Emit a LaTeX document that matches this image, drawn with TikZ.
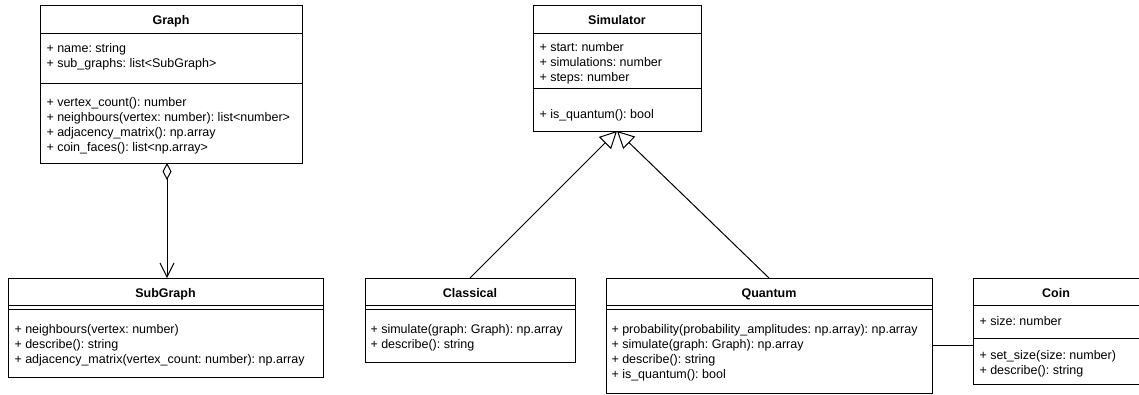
\documentclass[tikz,border=0pt]{standalone}
\usepackage{fontspec}
\setmainfont{Liberation Sans}
\usetikzlibrary{arrows.meta}
\frenchspacing

\begin{document}
\begin{tikzpicture}[x=1pt,y=-1pt,line width=1pt,
 font=\fontsize{12.5}{15}\selectfont,
 cls/.style={draw,rectangle,anchor=north west,inner sep=0pt,outer sep=0pt},
 ttl/.style={anchor=base,inner sep=0pt,font=\fontsize{12.5}{15}\selectfont\bfseries},
 mem/.style={anchor=base west,inner sep=0pt},
 inh/.style={arrows={-Triangle[open,length=17pt,width=17pt]}},
 agg/.style={arrows={Diamond[open,length=17pt,width=9pt]-Straight Barb[length=14pt,width=14pt]}}]
\useasboundingbox (0,0) rectangle (1139,394);
% Graph
\node[cls,minimum width=262pt,minimum height=158pt] (graph) at (40,5) {};
\node[ttl] (graphT) at (graph.north |- 0,24) {Graph};
\draw (graph.west |- 0,33) -- (graph.east |- 0,33);
\draw (graph.west |- 0,83) -- (graph.east |- 0,83);
\node[mem] (graphA1) at (46,52) {+ name: string};
\node[mem] (graphA2) at (46,67) {+ sub\_graphs: list<SubGraph>};
\node[mem] (graphM1) at (46,106) {+ vertex\_count(): number};
\node[mem] (graphM2) at (46,121) {+ neighbours(vertex: number): list<number>};
\node[mem] (graphM3) at (46,136) {+ adjacency\_matrix(): np.array};
\node[mem] (graphM4) at (46,151) {+ coin\_faces(): list<np.array>};
% Simulator
\node[cls,minimum width=168pt,minimum height=126pt] (simulator) at (533,5) {};
\node[ttl] (simulatorT) at (simulator.north |- 0,24) {Simulator};
\draw (simulator.west |- 0,33) -- (simulator.east |- 0,33);
\draw (simulator.west |- 0,88) -- (simulator.east |- 0,88);
\node[mem] (simulatorA1) at (539,51) {+ start: number};
\node[mem] (simulatorA2) at (539,66) {+ simulations: number};
\node[mem] (simulatorA3) at (539,81) {+ steps: number};
\node[mem] (simulatorM1) at (539,118) {+ is\_quantum(): bool};
% SubGraph
\node[cls,minimum width=315pt,minimum height=99pt] (subgraph) at (8,278) {};
\node[ttl] (subgraphT) at (subgraph.north |- 0,297) {SubGraph};
\draw (subgraph.west |- 0,305) -- (subgraph.east |- 0,305);
\draw (subgraph.west |- 0,309) -- (subgraph.east |- 0,309);
\node[mem] (subgraphM1) at (14,333) {+ neighbours(vertex: number)};
\node[mem] (subgraphM2) at (14,348) {+ describe(): string};
\node[mem] (subgraphM3) at (14,363) {+ adjacency\_matrix(vertex\_count: number): np.array};
% Classical
\node[cls,minimum width=210pt,minimum height=84pt] (classical) at (365,278) {};
\node[ttl] (classicalT) at (classical.north |- 0,297) {Classical};
\draw (classical.west |- 0,305) -- (classical.east |- 0,305);
\draw (classical.west |- 0,309) -- (classical.east |- 0,309);
\node[mem] (classicalM1) at (370,333) {+ simulate(graph: Graph): np.array};
\node[mem] (classicalM2) at (370,348) {+ describe(): string};
% Quantum
\node[cls,minimum width=326pt,minimum height=115pt] (quantum) at (606,278) {};
\node[ttl] (quantumT) at (quantum.north |- 0,297) {Quantum};
\draw (quantum.west |- 0,305) -- (quantum.east |- 0,305);
\draw (quantum.west |- 0,309) -- (quantum.east |- 0,309);
\node[mem] (quantumM1) at (611,333) {+ probability(probability\_amplitudes: np.array): np.array};
\node[mem] (quantumM2) at (611,348) {+ simulate(graph: Graph): np.array};
\node[mem] (quantumM3) at (611,363) {+ describe(): string};
\node[mem] (quantumM4) at (611,378) {+ is\_quantum(): bool};
% Coin
\node[cls,minimum width=166pt,minimum height=106pt] (coin) at (973,278) {};
\node[ttl] (coinT) at (coin.north |- 0,297) {Coin};
\draw (coin.west |- 0,305) -- (coin.east |- 0,305);
\draw (coin.west |- 0,338) -- (coin.east |- 0,338);
\node[mem] (coinA1) at (979,325) {+ size: number};
\node[mem] (coinM1) at (979,359) {+ set\_size(size: number)};
\node[mem] (coinM2) at (979,374) {+ describe(): string};
% relations
\coordinate (aggx) at (167,0);
\draw[agg] (graph.south -| aggx) -- (subgraph.north -| aggx);
\draw[inh] (classical.north) -- (simulator.south);
\draw[inh] (quantum.north) -- (simulator.south);
\coordinate (assoc) at (0,345);
\draw (quantum.east |- assoc) -- (coin.west |- assoc);
\end{tikzpicture}
\end{document}
